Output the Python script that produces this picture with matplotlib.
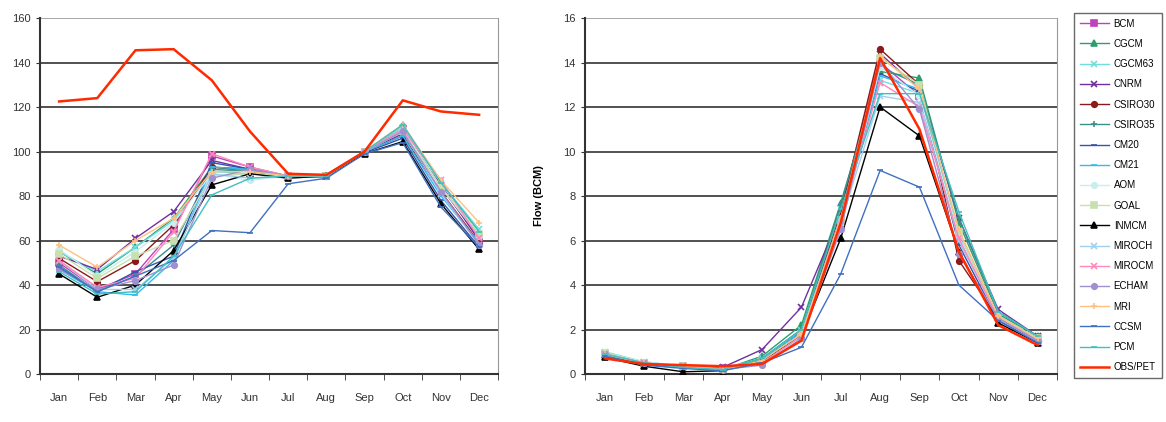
import matplotlib
matplotlib.use("Agg")
import matplotlib.pyplot as plt
import numpy as np

plt.rcParams['font.family'] = ['Liberation Sans', 'DejaVu Sans']

months = ['Jan', 'Feb', 'Mar', 'Apr', 'May', 'Jun', 'Jul', 'Aug', 'Sep', 'Oct', 'Nov', 'Dec']
models = ['BCM', 'CGCM', 'CGCM63', 'CNRM', 'CSIRO30', 'CSIRO35', 'CM20', 'CM21', 'AOM',
          'GOAL', 'INMCM', 'MIROCH', 'MIROCM', 'ECHAM', 'MRI', 'CCSM', 'PCM', 'OBS/PET']

# left panel values
left_bcm = [50, 38, 45, 65, 98, 93, 89, 89, 100, 110, 84, 61]
left_cgcm = [55, 45, 57, 70, 93, 91, 89, 89, 100, 112, 86, 64]
left_cgcm63 = [55, 46, 57, 69, 91, 90, 89, 89, 100, 111, 86, 65]
left_cnrm = [53, 47, 61, 73, 96, 92, 89, 89, 100, 108, 85, 60]
left_csiro30 = [52, 41.5, 51, 67, 93, 92, 89, 89, 100, 107, 82, 59]
left_csiro35 = [49, 37, 44, 58, 92, 91, 89, 89, 100, 110, 84, 62]
left_cm20 = [48, 37, 46, 53, 95, 92, 89, 88.5, 99.5, 106, 78, 57]
left_cm21 = [47, 37, 35.5, 51, 93, 92, 89, 89, 100, 107, 80, 59]
left_aom = [56, 44, 55, 68, 90, 87, 89, 89, 100, 110, 84, 62]
left_goal = [54, 43, 53, 60, 89, 90, 89, 89, 100, 109, 84, 63]
left_inmcm = [45, 34.5, 40, 55.5, 85, 90, 88, 89, 99, 104.5, 76.5, 56]
left_miroch = [51, 38, 38, 52, 90, 88, 89, 89, 100, 109, 81, 58]
left_mirocm = [51, 39, 43, 64, 99, 93, 89, 89, 100, 110, 87, 61]
left_echam = [47, 38, 42, 49, 88, 92, 89, 89, 100, 109, 82, 58]
left_mri = [58, 48, 60, 70, 91, 91, 89, 89, 100, 112, 87, 68]
left_ccsm = [48, 37, 44, 51, 64.5, 63.5, 85.5, 88, 99, 104, 75, 57]
left_pcm = [46, 36, 37, 53, 80.5, 88, 89, 89, 100, 112, 86, 64]
left_obs = [122.5, 124, 145.5, 146, 132, 109, 90, 89.5, 100, 123, 118, 116.5]

# right panel values (flow, BCM)
right_bcm = [0.9, 0.5, 0.35, 0.25, 0.6, 1.9, 7.0, 14.0, 12.5, 6.0, 2.6, 1.6]
right_cgcm = [0.85, 0.45, 0.3, 0.2, 0.8, 2.2, 7.7, 13.6, 13.3, 6.8, 2.7, 1.7]
right_cgcm63 = [1.0, 0.55, 0.35, 0.25, 0.7, 2.0, 7.4, 13.2, 12.6, 6.4, 2.6, 1.6]
right_cnrm = [0.9, 0.5, 0.3, 0.3, 1.1, 3.0, 7.2, 14.4, 12.8, 7.0, 2.9, 1.7]
right_csiro30 = [0.85, 0.45, 0.3, 0.2, 0.55, 1.9, 7.3, 14.6, 13.0, 5.1, 2.5, 1.5]
right_csiro35 = [0.9, 0.5, 0.3, 0.2, 0.7, 2.0, 7.6, 13.8, 13.0, 7.0, 2.8, 1.7]
right_cm20 = [0.8, 0.45, 0.3, 0.2, 0.6, 1.8, 6.8, 13.5, 12.7, 5.8, 2.4, 1.5]
right_cm21 = [0.85, 0.5, 0.3, 0.2, 0.6, 1.9, 7.0, 13.4, 12.8, 6.2, 2.5, 1.5]
right_aom = [0.95, 0.55, 0.35, 0.2, 0.5, 1.7, 6.6, 13.8, 12.5, 6.2, 2.5, 1.5]
right_goal = [0.95, 0.5, 0.35, 0.2, 0.6, 1.8, 6.9, 14.2, 13.0, 6.4, 2.6, 1.6]
right_inmcm = [0.75, 0.35, 0.1, 0.15, 0.6, 1.7, 6.1, 12.0, 10.7, 5.5, 2.3, 1.4]
right_miroch = [0.9, 0.5, 0.3, 0.2, 0.5, 1.7, 6.8, 12.5, 12.2, 6.0, 2.5, 1.5]
right_mirocm = [0.9, 0.5, 0.35, 0.25, 0.5, 1.7, 6.9, 13.1, 12.0, 6.1, 2.5, 1.5]
right_echam = [0.9, 0.5, 0.35, 0.2, 0.4, 1.6, 6.5, 14.0, 11.9, 5.4, 2.5, 1.5]
right_mri = [0.9, 0.5, 0.35, 0.2, 0.6, 1.8, 7.0, 14.3, 12.8, 6.5, 2.6, 1.6]
right_ccsm = [0.8, 0.4, 0.25, 0.15, 0.5, 1.2, 4.5, 9.15, 8.4, 4.0, 2.4, 1.4]
right_pcm = [0.9, 0.5, 0.3, 0.2, 0.7, 2.0, 7.4, 12.6, 12.6, 7.3, 2.8, 1.7]
right_obs = [0.7, 0.45, 0.4, 0.35, 0.45, 1.5, 6.8, 14.2, 11.0, 5.5, 2.2, 1.3]

left_data = [left_bcm, left_cgcm, left_cgcm63, left_cnrm, left_csiro30, left_csiro35,
             left_cm20, left_cm21, left_aom, left_goal, left_inmcm, left_miroch,
             left_mirocm, left_echam, left_mri, left_ccsm, left_pcm, left_obs]
right_data = [right_bcm, right_cgcm, right_cgcm63, right_cnrm, right_csiro30, right_csiro35,
              right_cm20, right_cm21, right_aom, right_goal, right_inmcm, right_miroch,
              right_mirocm, right_echam, right_mri, right_ccsm, right_pcm, right_obs]

# (color, marker, markersize)
styles = [('#c040c0', 's', 4), ('#2e9e6e', '^', 5), ('#70dede', 'x', 4), ('#7030a0', 'x', 5),
          ('#8b1a1a', 'o', 4), ('#3a8f8f', '+', 5), ('#3355aa', '_', 4), ('#33bbee', '_', 5),
          ('#c8eef0', 'o', 4), ('#c8e0b0', 's', 4), ('#000000', '^', 5), ('#a0d0f0', 'x', 4),
          ('#ff88bb', 'x', 4), ('#a090d0', 'o', 4), ('#ffc080', '+', 5), ('#4070c0', '_', 4),
          ('#40c0c0', '_', 5), ('#ff2a00', None, 0)]

fig = plt.figure(figsize=(11.66, 4.22), dpi=100)
ax1 = fig.add_axes([0.0343, 0.1137, 0.393, 0.8436])
ax2 = fig.add_axes([0.5017, 0.1137, 0.405, 0.8436])
x = np.arange(12)


def draw(ax, data, ymax, step):
    handles = []
    for vals, name, (c, m, ms) in zip(data, models, styles):
        if m is None:
            h, = ax.plot(x, vals, color=c, lw=1.8, label=name, zorder=4)
        else:
            h, = ax.plot(x, vals, color=c, lw=1, marker=m, markersize=ms,
                         markeredgewidth=1.2, label=name, zorder=3)
        handles.append(h)
    ax.set_xlim(-0.5, 11.5)
    ax.set_ylim(0, ymax)
    ax.set_yticks(np.arange(0, ymax + step, step))
    ax.set_xticks(x)
    ax.set_xticklabels(months)
    ax.set_xticks(np.arange(-0.5, 12, 1), minor=True)
    ax.tick_params(axis='x', which='major', length=0, labelsize=8, pad=14, colors='#333333')
    ax.tick_params(axis='x', which='minor', length=4, direction='out', color='#333333')
    ax.tick_params(axis='y', length=3, labelsize=8, colors='#333333')
    ax.yaxis.grid(True, color='#333333', lw=1.2)
    ax.get_ygridlines()[-1].set_color('#999999')
    ax.set_axisbelow(True)
    for s in ['left', 'bottom']:
        ax.spines[s].set_color('#333333')
        ax.spines[s].set_linewidth(1.5)
    ax.spines['top'].set_visible(False)
    ax.spines['right'].set_color('#999999')
    return handles


draw(ax1, left_data, 160, 20)
handles = draw(ax2, right_data, 16, 2)
ax2.set_ylabel('Flow (BCM)', fontsize=8, fontweight='bold', labelpad=14)

leg = fig.legend(handles=handles, loc='upper left', bbox_to_anchor=(1069 / 1166, 1 - 8 / 422),
                 fontsize=7, frameon=True, fancybox=False, edgecolor='#444444',
                 handlelength=3, labelspacing=1.05, borderpad=0.6, handletextpad=0.5)
leg.get_frame().set_linewidth(1)

fig.savefig('out.png', dpi=100)
